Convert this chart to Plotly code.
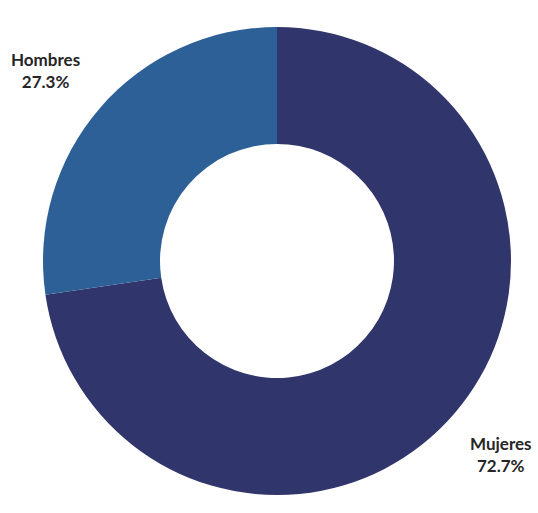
import plotly.graph_objects as go

labels = ["Mujeres", "Hombres"]
values = [72.7, 27.3]
colors = ["#30356B", "#2E6098"]

W, H = 538, 513
cx, cy, r = 277, 261, 234

fig = go.Figure(go.Pie(
    labels=labels, values=values, sort=False, direction="clockwise", rotation=0,
    hole=0.5, textinfo="none", hoverinfo="label+percent",
    marker=dict(colors=colors, line=dict(width=0)),
    domain=dict(x=[(cx - r) / W, (cx + r) / W], y=[(H - cy - r) / H, (H - cy + r) / H]),
))

label_pos = {"Hombres": (45, 71), "Mujeres": (501, 454)}
for lab, val in zip(labels, values):
    x, y = label_pos[lab]
    fig.add_annotation(
        x=x / W, y=1 - y / H, xref="paper", yref="paper",
        xanchor="center", yanchor="middle",
        text=f"<b>{lab}</b><br><b>{val}%</b>", showarrow=False,
        font=dict(family="Lato", size=17, color="#262626"), align="center",
    )

fig.update_layout(
    width=W, height=H, margin=dict(l=0, r=0, t=0, b=0),
    showlegend=False, paper_bgcolor="white", plot_bgcolor="white",
)
fig.write_html("out.html")
